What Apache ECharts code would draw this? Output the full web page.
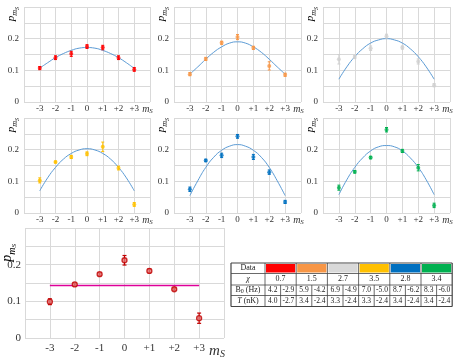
<!DOCTYPE html>
<html><head><meta charset="utf-8">
<script src="https://cdn.jsdelivr.net/npm/echarts@6/dist/echarts.min.js"></script>
<style>html,body{margin:0;padding:0;background:#fff}#c{width:463px;height:359px}</style>
</head><body><div id="c"></div>
<script>
// ---------------- DATA ----------------
const msValues = [-3, -2, -1, 0, 1, 2, 3];
const xTickLabels = ['-3', '-2', '-1', '0', '+1', '+2', '+3'];
const yTickLabels = { '0': '0', '0.1': '0.1', '0.2': '0.2' };
const curveX = [-3, -2.5, -2, -1.5, -1, -0.5, 0, 0.5, 1, 1.5, 2, 2.5, 3];

// panel 1 (red)
const redP   = [0.107, 0.140, 0.152, 0.175, 0.172, 0.140, 0.103];
const redErr = [0.005, 0.006, 0.008, 0.006, 0.007, 0.006, 0.006];
const redFit = [0.107, 0.124, 0.140, 0.153, 0.163, 0.170, 0.172, 0.170, 0.163, 0.153, 0.140, 0.124, 0.106];
// panel 2 (orange)
const orangeP   = [0.088, 0.136, 0.187, 0.205, 0.171, 0.114, 0.086];
const orangeErr = [0.005, 0.005, 0.005, 0.008, 0.005, 0.013, 0.005];
const orangeFit = [0.088, 0.111, 0.135, 0.157, 0.174, 0.186, 0.190, 0.186, 0.174, 0.157, 0.135, 0.111, 0.088];
// panel 3 (grey)
const greyP   = [0.135, 0.142, 0.170, 0.208, 0.172, 0.128, 0.053];
const greyErr = [0.015, 0.005, 0.007, 0.006, 0.005, 0.008, 0.005];
const greyFit = [0.072, 0.111, 0.143, 0.168, 0.186, 0.196, 0.200, 0.196, 0.186, 0.168, 0.143, 0.111, 0.072];
// panel 4 (yellow)
const yellowP   = [0.103, 0.161, 0.177, 0.187, 0.209, 0.142, 0.027];
const yellowErr = [0.008, 0.003, 0.005, 0.006, 0.015, 0.006, 0.006];
const yellowFit = [0.070, 0.111, 0.144, 0.170, 0.188, 0.199, 0.203, 0.199, 0.188, 0.170, 0.144, 0.111, 0.070];
// panel 5 (blue)
const blueP   = [0.075, 0.166, 0.182, 0.242, 0.177, 0.129, 0.035];
const blueErr = [0.007, 0.004, 0.007, 0.006, 0.008, 0.007, 0.005];
const blueFit = [0.055, 0.102, 0.144, 0.176, 0.198, 0.211, 0.216, 0.211, 0.198, 0.176, 0.144, 0.102, 0.055];
// panel 6 (green)
const greenP   = [0.080, 0.130, 0.175, 0.263, 0.196, 0.143, 0.024];
const greenErr = [0.008, 0.004, 0.004, 0.007, 0.005, 0.010, 0.007];
const greenFit = [0.058, 0.105, 0.144, 0.174, 0.196, 0.209, 0.213, 0.209, 0.196, 0.174, 0.144, 0.105, 0.058];
// bottom panel (average)
const avgP   = [0.099, 0.146, 0.174, 0.212, 0.183, 0.133, 0.054];
const avgErr = [0.008, 0.004, 0.004, 0.013, 0.005, 0.003, 0.014];
const uniformLevel = 0.143;
const uniformRange = [-3, 3];

// table
const tableRowLabels = ['Data', 'χ', 'B0 (Hz)', 'T (nK)'];
const chiValues = ['0.7', '1.5', '2.7', '3.5', '2.8', '3.4'];
const b0Values = [['4.2', '-2.9'], ['5.9', '-4.2'], ['6.9', '-4.9'], ['7.0', '-5.0'], ['8.7', '-6.2'], ['8.3', '-6.0']];
const tValues  = [['4.0', '-2.7'], ['3.4', '-2.4'], ['3.3', '-2.4'], ['3.3', '-2.4'], ['3.4', '-2.4'], ['3.4', '-2.4']];

// ---------------- STYLE / LAYOUT ----------------
const panelColors = ['#ff0000', '#f79646', '#cfcfcf', '#ffc000', '#0070c0', '#00b050'];
const tableColors = ['#ff0000', '#f79646', '#d9d9d9', '#ffc000', '#0070c0', '#00b050'];
const fitColor = '#5b9bd5';
const gridColor = '#d9d9d9';
const txtColor = '#333';
const serif = 'Liberation Serif';

const panels = [
  { p: redP, e: redErr, f: redFit },
  { p: orangeP, e: orangeErr, f: orangeFit },
  { p: greyP, e: greyErr, f: greyFit },
  { p: yellowP, e: yellowErr, f: yellowFit },
  { p: blueP, e: blueErr, f: blueFit },
  { p: greenP, e: greenErr, f: greenFit }
];

const gridBoxes = [
  { left: 24, top: 7, width: 126, height: 95 },
  { left: 174, top: 7, width: 127, height: 95 },
  { left: 323, top: 7, width: 127, height: 95 },
  { left: 24, top: 118, width: 126, height: 95 },
  { left: 174, top: 118, width: 127, height: 95 },
  { left: 323, top: 118, width: 127, height: 95 },
  { left: 25, top: 228, width: 199, height: 110 }
];

function xFmt(v) {
  if (v === 4) return '{m|m}{s|S}';
  const k = msValues.indexOf(v);
  return k >= 0 ? xTickLabels[k] : '';
}
function yFmt(v) {
  const key = String(Math.round(v * 100) / 100);
  return yTickLabels[key] !== undefined ? yTickLabels[key] : '';
}

function errRender(color, cap, lw) {
  return function (params, api) {
    const x = api.value(0), y = api.value(1), e = api.value(2);
    const hi = api.coord([x, y + e]), lo = api.coord([x, y - e]);
    const st = { stroke: color, lineWidth: lw };
    return {
      type: 'group', children: [
        { type: 'line', shape: { x1: hi[0], y1: hi[1], x2: lo[0], y2: lo[1] }, style: st },
        { type: 'line', shape: { x1: hi[0] - cap, y1: hi[1], x2: hi[0] + cap, y2: hi[1] }, style: st },
        { type: 'line', shape: { x1: lo[0] - cap, y1: lo[1], x2: lo[0] + cap, y2: lo[1] }, style: st }
      ]
    };
  };
}

const grids = [], xAxes = [], yAxes = [], series = [], graphics = [];

gridBoxes.forEach((g, i) => {
  const big = i === 6;
  const fs = big ? 11 : 9;
  grids.push({ left: g.left, top: g.top, width: g.width, height: g.height, containLabel: false });
  xAxes.push({
    gridIndex: i, type: 'value', min: -4, max: 4, interval: 1,
    axisLine: { show: false }, axisTick: { show: false },
    splitLine: { show: true, lineStyle: { color: gridColor, width: 1 } },
    axisLabel: {
      formatter: xFmt, showMinLabel: true, showMaxLabel: true,
      margin: big ? 5 : 2, fontFamily: serif, fontSize: fs, color: txtColor,
      rich: {
        m: { fontFamily: serif, fontStyle: 'italic', fontSize: big ? 15 : 10, color: txtColor },
        s: { fontFamily: serif, fontStyle: 'italic', fontSize: big ? 10 : 7, color: txtColor, padding: [big ? 6 : 4, big ? 14 : 5, 0, 0] }
      }
    }
  });
  yAxes.push({
    gridIndex: i, type: 'value', min: 0, max: 0.3, interval: 0.05,
    axisLine: { show: false }, axisTick: { show: false },
    splitLine: { show: true, lineStyle: { color: gridColor, width: 1 } },
    axisLabel: { formatter: yFmt, showMinLabel: true, showMaxLabel: true, margin: big ? 4 : 5, fontFamily: serif, fontSize: fs, color: txtColor }
  });
  // y axis name p_{m_S}
  graphics.push({
    type: 'text', x: g.left - (big ? 16 : 11), y: g.top + (big ? 16 : 0), rotation: Math.PI / 2,
    style: {
      text: '{p|p}{m|m}{s|S}', align: 'right', verticalAlign: 'middle',
      rich: {
        p: { fontFamily: serif, fontStyle: 'italic', fontSize: big ? 14 : 11, color: txtColor, verticalAlign: 'top' },
        m: { fontFamily: serif, fontStyle: 'italic', fontSize: big ? 10 : 8, color: txtColor, verticalAlign: 'top', padding: [big ? 7 : 5, 0, 0, 0] },
        s: { fontFamily: serif, fontStyle: 'italic', fontSize: big ? 7 : 6, color: txtColor, verticalAlign: 'top', padding: [big ? 10 : 8, 0, 0, 0] }
      }
    }
  });
});

panels.forEach((pn, i) => {
  const col = panelColors[i];
  series.push({
    type: 'line', xAxisIndex: i, yAxisIndex: i, smooth: true, showSymbol: false, silent: true,
    data: curveX.map((x, k) => [x, pn.f[k]]),
    lineStyle: { color: fitColor, width: 1 }, z: 2
  });
  series.push({
    type: 'custom', xAxisIndex: i, yAxisIndex: i, silent: true,
    renderItem: errRender(col, 1.5, 1),
    encode: { x: 0, y: 1 },
    data: msValues.map((m, k) => [m, pn.p[k], pn.e[k]]), z: 3
  });
  series.push({
    type: 'scatter', xAxisIndex: i, yAxisIndex: i, silent: true,
    symbol: 'circle', symbolSize: 4,
    itemStyle: { color: col },
    data: msValues.map((m, k) => [m, pn.p[k]]), z: 4
  });
});

// bottom panel
series.push({
  type: 'line', xAxisIndex: 6, yAxisIndex: 6, showSymbol: false, silent: true,
  data: uniformRange.map(x => [x, uniformLevel]),
  lineStyle: { color: '#dd0099', width: 1.5 }, z: 2
});
series.push({
  type: 'custom', xAxisIndex: 6, yAxisIndex: 6, silent: true,
  renderItem: errRender('#c00000', 2, 1.2),
  encode: { x: 0, y: 1 },
  data: msValues.map((m, k) => [m, avgP[k], avgErr[k]]), z: 3
});
series.push({
  type: 'scatter', xAxisIndex: 6, yAxisIndex: 6, silent: true,
  symbol: 'circle', symbolSize: 5,
  itemStyle: { color: '#e27070', borderColor: '#c00000', borderWidth: 1.3 },
  data: msValues.map((m, k) => [m, avgP[k]]), z: 4
});

// ---------------- TABLE ----------------
const tX = 231, tY = 263, firstW = 34, colW = 31.2;
const rowH = [10.5, 11.5, 10.5, 11];
const rowY = [tY];
rowH.forEach(h => rowY.push(rowY[rowY.length - 1] + h));
const tW = firstW + colW * 6;
const lineCol = '#444';
const tfs = 8;
function tText(x, y, text, extra) {
  graphics.push({
    type: 'text', x: x, y: y,
    style: Object.assign({ text: text, align: 'center', verticalAlign: 'middle', fontFamily: serif, fontSize: tfs, fill: '#222' }, extra || {})
  });
}
tableColors.forEach((c, j) => {
  graphics.push({ type: 'rect', shape: { x: tX + firstW + j * colW + 1, y: rowY[0] + 1, width: colW - 2, height: rowH[0] - 2 }, style: { fill: c } });
});
rowY.forEach((y, r) => {
  graphics.push({ type: 'line', shape: { x1: tX, y1: y, x2: tX + tW, y2: y }, style: { stroke: lineCol, lineWidth: (r === 0 || r === rowY.length - 1) ? 1.2 : 0.8 } });
});
for (let j = 0; j <= 6; j++) {
  const x = tX + firstW + j * colW;
  graphics.push({ type: 'line', shape: { x1: x, y1: rowY[0], x2: x, y2: rowY[4] }, style: { stroke: lineCol, lineWidth: j === 6 ? 1.2 : 0.8 } });
  if (j < 6) {
    const xm = x + colW / 2;
    graphics.push({ type: 'line', shape: { x1: xm, y1: rowY[2], x2: xm, y2: rowY[4] }, style: { stroke: lineCol, lineWidth: 0.8 } });
  }
}
graphics.push({ type: 'line', shape: { x1: tX, y1: rowY[0], x2: tX, y2: rowY[4] }, style: { stroke: lineCol, lineWidth: 1.2 } });
const fcx = tX + firstW / 2;
tText(fcx, (rowY[0] + rowY[1]) / 2, tableRowLabels[0]);
tText(fcx, (rowY[1] + rowY[2]) / 2, tableRowLabels[1], { fontStyle: 'italic' });
tText(fcx, (rowY[2] + rowY[3]) / 2, '{a|B}{b|0}{a| (Hz)}', {
  rich: { a: { fontFamily: serif, fontSize: tfs, color: '#222' }, b: { fontFamily: serif, fontSize: 6, color: '#222', padding: [3, 0, 0, 0] } }
});
tText(fcx, (rowY[3] + rowY[4]) / 2, '{i|T}{a| (nK)}', {
  rich: { i: { fontFamily: serif, fontStyle: 'italic', fontSize: tfs, color: '#222' }, a: { fontFamily: serif, fontSize: tfs, color: '#222' } }
});
chiValues.forEach((v, j) => {
  tText(tX + firstW + j * colW + colW / 2, (rowY[1] + rowY[2]) / 2, v);
});
b0Values.forEach((pair, j) => {
  pair.forEach((v, h) => tText(tX + firstW + j * colW + colW / 4 + h * colW / 2, (rowY[2] + rowY[3]) / 2, v, { fontSize: 7.5 }));
});
tValues.forEach((pair, j) => {
  pair.forEach((v, h) => tText(tX + firstW + j * colW + colW / 4 + h * colW / 2, (rowY[3] + rowY[4]) / 2, v, { fontSize: 7.5 }));
});

const chart = echarts.init(document.getElementById('c'), null, { renderer: 'canvas' });
chart.setOption({
  animation: false,
  backgroundColor: '#fff',
  grid: grids, xAxis: xAxes, yAxis: yAxes, series: series,
  graphic: graphics
});
</script>
</body></html>
